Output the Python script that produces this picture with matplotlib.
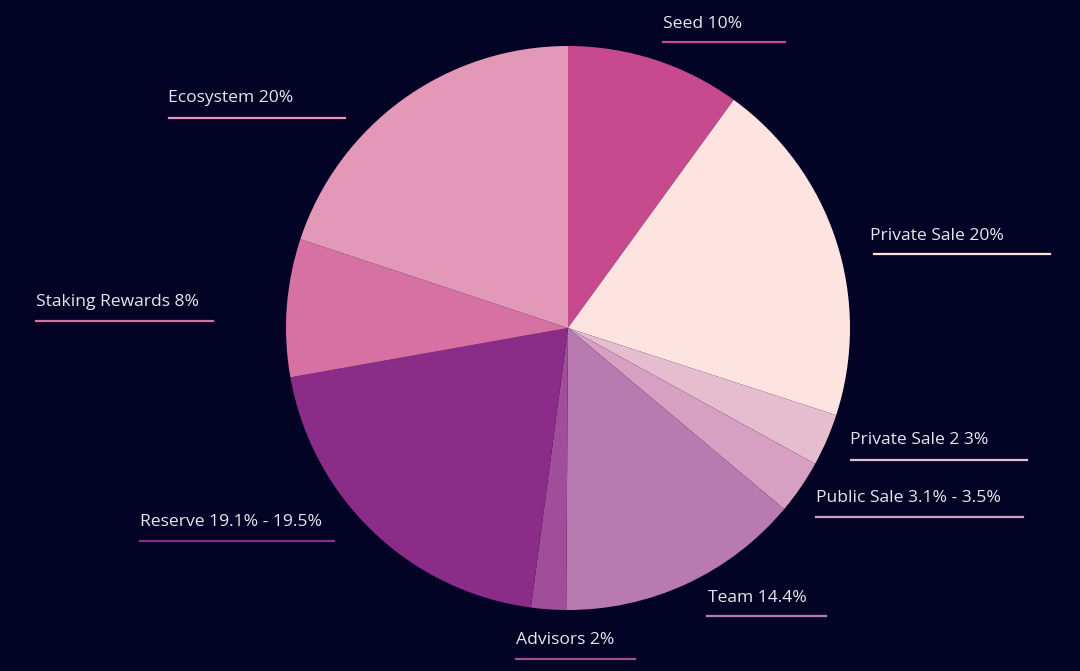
import matplotlib
matplotlib.use("Agg")
import matplotlib.pyplot as plt
from matplotlib.lines import Line2D

labels = ["Seed 10%", "Private Sale 20%", "Private Sale 2 3%", "Public Sale 3.1% - 3.5%",
          "Team 14.4%", "Advisors 2%", "Reserve 19.1% - 19.5%", "Staking Rewards 8%",
          "Ecosystem 20%"]
# slice sizes
values = [10, 20, 3, 3.1, 14, 2, 20.1, 7.9, 19.9]
colors = ["#C84A8E", "#FDE4E0", "#E6BCCF", "#D7A0C2", "#B97BAF", "#A04E9A",
          "#8A2C88", "#D770A3", "#E398B8"]

# label layout: (text left x px, text center y px, line x0, line x1, line y)
label_pos = [
    (663, 23, 663, 785, 42),
    (870, 234, 874, 1050, 254),
    (850, 439, 851, 1027, 460),
    (816, 497, 816, 1023, 517),
    (708, 597, 707, 826, 616),
    (516, 638, 516, 635, 659),
    (140, 521, 140, 334, 541),
    (36, 301, 36, 213, 321),
    (168, 97, 169, 345, 118),
]

W, H = 1080, 671
BG = "#020325"
fig = plt.figure(figsize=(W / 100, H / 100), dpi=100, facecolor=BG)

cx, cy, r = 568, 328, 282
ax = fig.add_axes([(cx - r) / W, (H - cy - r) / H, 2 * r / W, 2 * r / H])
ax.set_facecolor(BG)
ax.pie(values, colors=colors, startangle=90, counterclock=False, radius=1,
       wedgeprops=dict(linewidth=0))
ax.set_xlim(-1, 1)
ax.set_ylim(-1, 1)
ax.set_aspect("equal")
ax.axis("off")

for lab, col, (tx, ty, x0, x1, ly) in zip(labels, colors, label_pos):
    fig.text(tx / W, 1 - (ty + 1.5) / H, lab, color="#E6E6EC", fontsize=12.6,
             family="Open Sans", ha="left", va="center")
    fig.add_artist(Line2D([x0 / W, x1 / W], [1 - ly / H, 1 - ly / H],
                          transform=fig.transFigure, color=col, linewidth=1.6))

fig.savefig("out.png", dpi=100, facecolor=BG)
